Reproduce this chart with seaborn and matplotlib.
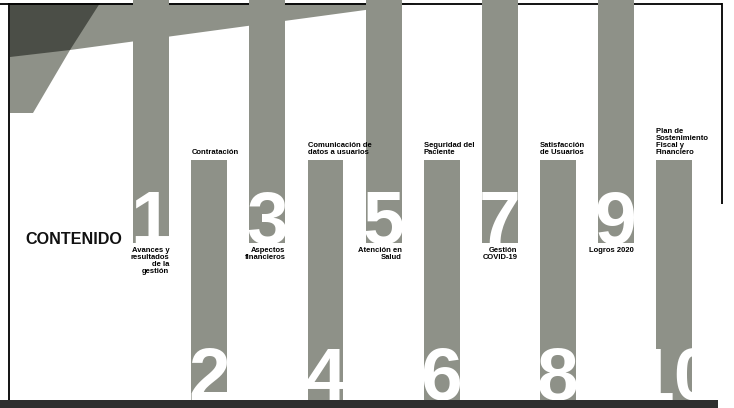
import matplotlib
matplotlib.use("Agg")
import matplotlib.pyplot as plt
import seaborn as sns
import pandas as pd
from matplotlib.patches import Polygon

# ---- data -------------------------------------------------------------
sections = ["1", "2", "3", "4", "5", "6", "7", "8", "9", "10"]
titles = [
    "Avances y\nresultados\nde la\ngestión",
    "Contratación",
    "Aspectos\nfinancieros",
    "Comunicación de\ndatos a usuarios",
    "Atención en\nSalud",
    "Seguridad del\nPaciente",
    "Gestión\nCOVID-19",
    "Satisfacción\nde Usuarios",
    "Logros 2020",
    "Plan de\nSostenimiento\nFiscal y\nFinanciero",
]
placement = ["top", "bottom", "top", "bottom", "top",
             "bottom", "top", "bottom", "top", "bottom"]
bar_length = [243, 248, 243, 248, 243, 248, 243, 248, 243, 248]
heading = "CONTENIDO"

# ---- style ------------------------------------------------------------
sns.set_style("white")
plt.rcParams["font.family"] = ["Liberation Sans", "DejaVu Sans"]

GRAY = "#8e9188"
DARK = "#4b4e47"
BAND = "#2e2e2e"
W, H = 734, 408

df = pd.DataFrame({"section": sections, "title": titles,
                   "placement": placement, "length": bar_length})
top = df[df.placement == "top"]
bot = df[df.placement == "bottom"]

fig = plt.figure(figsize=(W / 100, H / 100), dpi=100)

# decoration layer (page frame, top band)
deco = fig.add_axes([0, 0, 1, 1])
deco.set_xlim(0, W)
deco.set_ylim(H, 0)
deco.axis("off")
deco.add_patch(Polygon([(10, 3), (417, 3), (70, 50), (33, 113), (10, 113)],
                       closed=True, facecolor=GRAY, lw=0))
deco.add_patch(Polygon([(10, 3), (100, 3), (70, 50), (10, 57)],
                       closed=True, facecolor=DARK, lw=0))
deco.plot([0, 722], [3.5, 3.5], color="black", lw=1.3, solid_capstyle="butt")
deco.plot([9, 9], [3, 402], color="black", lw=1.3, solid_capstyle="butt")
deco.plot([722, 722], [3, 204], color="black", lw=1.3, solid_capstyle="butt")
deco.text(25, 244, heading, fontsize=11.6, fontweight="bold", color="#111111",
          ha="left", va="baseline")

# category scale: shared x-limits for both bar layers
slope, x_first = 58.03, 151.4
xlim = (-x_first / slope, (W - x_first) / slope)
BW = 0.62

# hanging bars (odd sections)
ax_top = fig.add_axes([0, 0, 1, 1])
ax_top.patch.set_alpha(0)
sns.barplot(data=top, x="section", y="length", order=sections, color=GRAY,
            saturation=1, width=BW, errorbar=None, linewidth=0, ax=ax_top)
ax_top.set_xlim(*xlim)
ax_top.set_ylim(H, 0)
ax_top.axis("off")
for _, r in top.iterrows():
    i = sections.index(r.section)
    ax_top.text(i, r.length, r.section, ha="center", va="baseline",
                color="white", fontsize=54, fontweight="bold", zorder=5)
    ax_top.text(i + BW / 2, r.length + 4, r.title, ha="right", va="top",
                multialignment="right", fontsize=5.5, fontweight="bold",
                linespacing=1.0, color="black", zorder=5)

# rising bars (even sections)
ax_bot = fig.add_axes([0, 0, 1, 1])
ax_bot.patch.set_alpha(0)
sns.barplot(data=bot, x="section", y="length", order=sections, color=GRAY,
            saturation=1, width=BW, errorbar=None, linewidth=0, ax=ax_bot)
ax_bot.set_xlim(*xlim)
ax_bot.set_ylim(0, H)
ax_bot.axis("off")
for _, r in bot.iterrows():
    i = sections.index(r.section)
    ax_bot.text(i, 8, r.section, ha="center", va="baseline",
                color="white", fontsize=54, fontweight="bold", zorder=5)
    ax_bot.text(i - BW / 2, r.length + 4, r.title, ha="left", va="bottom",
                multialignment="left", fontsize=5.5, fontweight="bold",
                linespacing=1.0, color="black", zorder=5)
ax_bot.axhspan(0, 8, xmin=0, xmax=718 / W, color=BAND, lw=0, zorder=10)

fig.savefig("out.png", dpi=100)
